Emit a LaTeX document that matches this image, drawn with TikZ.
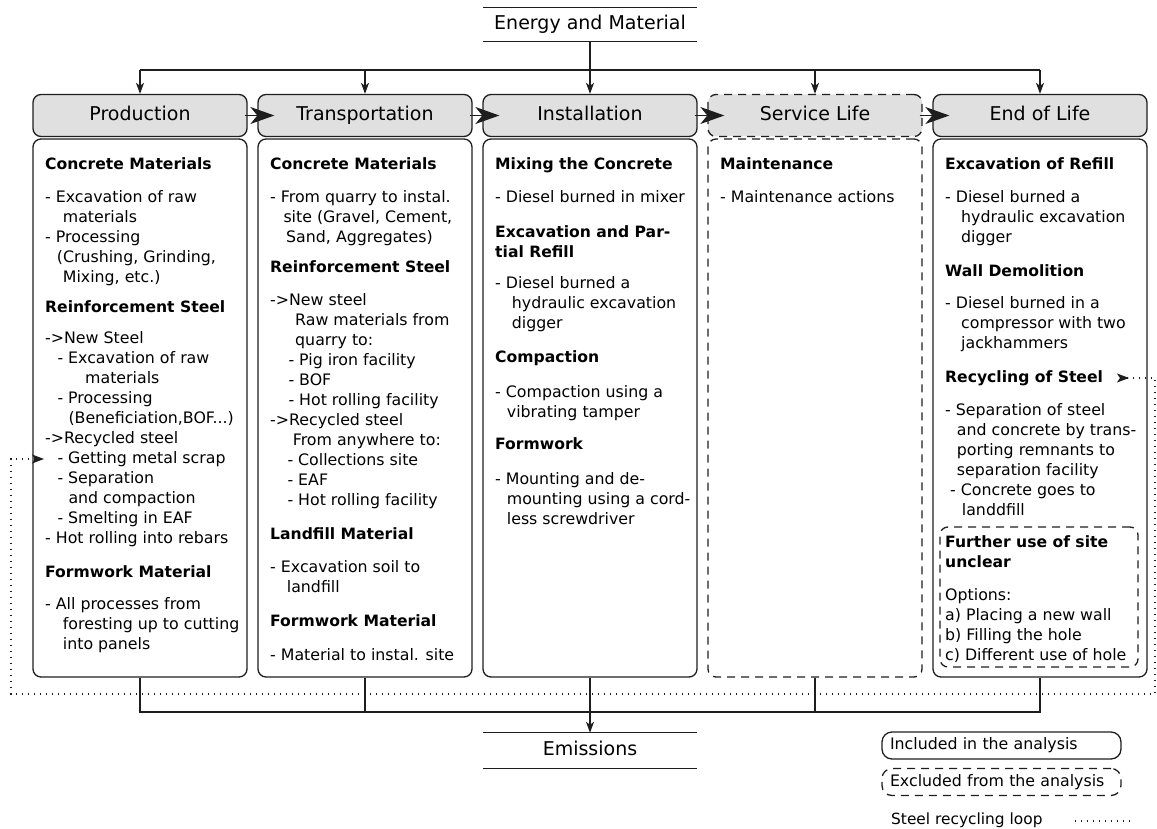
\documentclass[tikz,border=0pt]{standalone}
\usepackage{fontspec}
\setmainfont{DejaVu Sans}
\usetikzlibrary{arrows.meta}
\definecolor{lc}{HTML}{1E1E1E}
\definecolor{hg}{HTML}{E0E0E0}
\newcommand{\hd}[1]{{\fontsize{15.6}{20}\selectfont\bfseries #1}}
\newcommand{\ind}[1]{\hspace*{#1pt}}
\tikzset{
  base/.style={draw=lc, line width=1.3pt, rounded corners=8pt, minimum width=214pt, inner sep=0pt},
  hdr/.style={base, fill=hg, minimum height=42pt, text height=14pt, text depth=4pt, font=\fontsize{19}{23}\selectfont},
  bodybox/.style={base, minimum height=538pt},
  excl/.style={dash pattern=on 8pt off 6pt},
  txt/.style={anchor=base west, inner sep=0pt, font=\fontsize{15.8}{20}\selectfont},
  conn/.style={draw=lc, line width=1.3pt},
  darr/.style={conn, -{Stealth[length=11pt,width=8pt,inset=3pt]}},
  harr/.style={conn, -{Stealth[length=24pt,width=17pt,inset=7pt]}},
  loopline/.style={draw=lc, line width=1.3pt, dash pattern=on 1.3pt off 4.7pt},
  bar/.style={minimum width=214pt, inner sep=0pt, text height=14pt, text depth=4pt, font=\fontsize{19}{23}\selectfont},
  leg/.style={draw=lc, line width=1.3pt, rounded corners=10pt, minimum height=27pt, text width=223pt, align=left, inner xsep=8pt, inner ysep=0pt, font=\fontsize{15.8}{19}\selectfont},
}
\begin{document}
\begin{tikzpicture}[x=1pt,y=-1pt]
\useasboundingbox (0,0) rectangle (1157,829);

% top and bottom bars
\node[bar, minimum height=33pt] (en) at (590,24.5) {Energy and Material};
\draw[conn] (en.north west) -- (en.north east);
\draw[conn] (en.south west) -- (en.south east);
\node[bar, minimum height=35pt] (em) at (590,750.5) {Emissions};
\draw[conn] (em.north west) -- (em.north east);
\draw[conn] (em.south west) -- (em.south east);

% headers
\node[hdr] (h1) at (140,115.5) {Production};
\node[hdr] (h2) at (365,115.5) {Transportation};
\node[hdr] (h3) at (590,115.5) {Installation};
\node[hdr, excl] (h4) at (815,115.5) {Service Life};
\node[hdr] (h5) at (1040,115.5) {End of Life};

% bodies
\node[bodybox] (b1) at (140,408) {};
\node[bodybox] (b2) at (365,408) {};
\node[bodybox] (b3) at (590,408) {};
\node[bodybox, excl] (b4) at (815,408) {};
\node[bodybox] (b5) at (1040,408) {};

% inner excluded box
\node[draw=lc, line width=1.3pt, rounded corners=8pt, excl, minimum width=198pt, minimum height=140pt, inner sep=0pt] (d5) at (1039,597) {};

% texts
\node[txt] (p1) at (45,170) {\begin{tabular}[t]{@{}l@{}}
\hd{Concrete Materials}\\[13pt]
- Excavation of raw\\
\ind{17.7}materials\\
- Processing\\
\ind{11.7}(Crushing, Grinding,\\
\ind{17.7}Mixing, etc.)\\[10pt]
\hd{Reinforcement Steel}\\[11pt]
->New Steel\\
\ind{12.3}- Excavation of raw\\
\ind{40}materials\\
\ind{12.3}- Processing\\
\ind{23.3}(Beneficiation,BOF...)\\
->Recycled steel\\
\ind{12.3}- Getting metal scrap\\
\ind{12.3}- Separation\\
\ind{23.3}and compaction\\
\ind{12.3}- Smelting in EAF\\
- Hot rolling into rebars\\[14pt]
\hd{Formwork Material}\\[12pt]
- All processes from\\
\ind{17.7}foresting up to cutting\\
\ind{17.7}into panels
\end{tabular}};

\node[txt] (p2) at (270,170) {\begin{tabular}[t]{@{}l@{}}
\hd{Concrete Materials}\\[13pt]
- From quarry to instal.\\
\ind{13.3}site (Gravel, Cement,\\
\ind{16}Sand, Aggregates)\\[10pt]
\hd{Reinforcement Steel}\\[13pt]
->New steel\\
\ind{25}Raw materials from\\
\ind{25}quarry to:\\
\ind{18.3}- Pig iron facility\\
\ind{18.3}- BOF\\
\ind{18.3}- Hot rolling facility\\
->Recycled steel\\
\ind{22.7}From anywhere to:\\
\ind{17.3}- Collections site\\
\ind{17.3}- EAF\\
\ind{17.3}- Hot rolling facility\\[14pt]
\hd{Landfill Material}\\[13pt]
- Excavation soil to\\
\ind{16.7}landfill\\[14pt]
\hd{Formwork Material}\\[14pt]
- Material to instal. site
\end{tabular}};

\node[txt] (p3) at (495,170) {\begin{tabular}[t]{@{}l@{}}
\hd{Mixing the Concrete}\\[13pt]
- Diesel burned in mixer\\[15pt]
\hd{Excavation and Par-}\\
\hd{tial Refill}\\[11pt]
- Diesel burned a\\
\ind{16.7}hydraulic excavation\\
\ind{16.7}digger\\[14pt]
\hd{Compaction}\\[15pt]
- Compaction using a\\
\ind{11.7}vibrating tamper\\[12pt]
\hd{Formwork}\\[15pt]
- Mounting and de-\\
\ind{11.7}mounting using a cord-\\
\ind{11.7}less screwdriver
\end{tabular}};

\node[txt] (p4) at (720,170) {\begin{tabular}[t]{@{}l@{}}
\hd{Maintenance}\\[13pt]
- Maintenance actions
\end{tabular}};

\node[txt] (p5) at (945,170) {\begin{tabular}[t]{@{}l@{}}
\hd{Excavation of Refill}\\[13pt]
- Diesel burned a\\
\ind{16}hydraulic excavation\\
\ind{16}digger\\[14pt]
\hd{Wall Demolition}\\[12pt]
- Diesel burned in a\\
\ind{16}compressor with two\\
\ind{16}jackhammers\\[14pt]
\hd{Recycling of Steel}\\[13pt]
- Separation of steel\\
\ind{11.7}and concrete by trans-\\
\ind{11.7}porting remnants to\\
\ind{11.7}separation facility\\
\ind{5}- Concrete goes to\\
\ind{16.7}landdfill
\end{tabular}};

\node[txt] (p6) at (945,547) {\begin{tabular}[t]{@{}l@{}}
\hd{Further use of site}\\
\hd{unclear}\\[13pt]
Options:\\
a) Placing a new wall\\
b) Filling the hole\\
c) Different use of hole
\end{tabular}};

% distribution from top
\coordinate (jt) at (590,70);
\draw[darr] (en.south) -- (h3.north);
\draw[conn] (h1.north |- jt) -- (h5.north |- jt);
\draw[darr] (h1.north |- jt) -- (h1.north);
\draw[darr] (h2.north |- jt) -- (h2.north);
\draw[darr] (h4.north |- jt) -- (h4.north);
\draw[darr] (h5.north |- jt) -- (h5.north);

% header sequence arrows
\draw[harr] ([xshift=-3pt]h1.east) -- ([xshift=17pt]h2.west);
\draw[harr] ([xshift=-3pt]h2.east) -- ([xshift=17pt]h3.west);
\draw[harr] ([xshift=-3pt]h3.east) -- ([xshift=17pt]h4.west);
\draw[harr] ([xshift=-3pt]h4.east) -- ([xshift=17pt]h5.west);

% collection to emissions
\coordinate (jb) at (590,712);
\draw[conn] (b1.south) -- (b1.south |- jb) -- (b5.south |- jb) -- (b5.south);
\draw[conn] (b2.south) -- (b2.south |- jb);
\draw[conn] (b4.south) -- (b4.south |- jb);
\draw[darr] (b3.south) -- (em.north);

% steel recycling loop
\coordinate (rs) at (1117,378);
\coordinate (rc1) at (1155,378);
\coordinate (rc2) at (1155,694);
\coordinate (lc2) at (11,694);
\coordinate (lc1) at (11,459);
\coordinate (lt) at (44,459);
\draw[loopline, {Stealth[reversed,length=12pt,width=9pt,inset=3pt]}-{Stealth[length=12pt,width=9pt,inset=3pt]}] (rs) -- (rc1) -- (rc2) -- (lc2) -- (lc1) -- (lt);

% legend
\node[leg] (li) at (1001.5,745.5) {Included in the analysis};
\node[leg, excl] (lx) at (1001.5,782) {Excluded from the analysis};
\node[txt, font=\fontsize{15.4}{18}\selectfont] (ll) at (891,824) {Steel recycling loop};
\coordinate (lla) at (1075,821);
\coordinate (llb) at (1132,821);
\draw[loopline] (lla) -- (llb);
\end{tikzpicture}
\end{document}
